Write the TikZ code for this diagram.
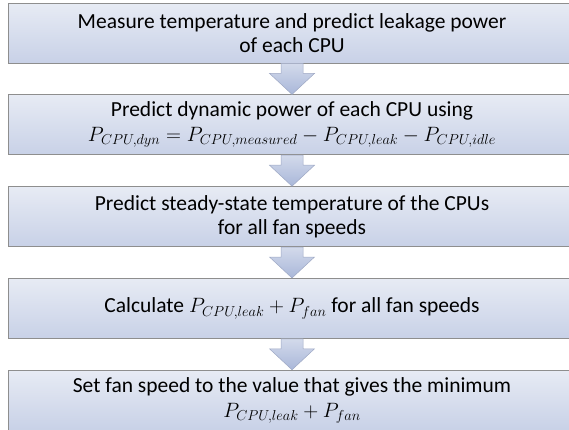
\documentclass[tikz,border=0pt]{standalone}
\usepackage{fontspec}
\setmainfont{Carlito}
\usepackage{tikz}
\usetikzlibrary{positioning,calc}

\definecolor{boxtop}{HTML}{E7EBF4}
\definecolor{boxbottom}{HTML}{C8D1E7}
\definecolor{boxline}{HTML}{8E8E8E}
\definecolor{arrowtop}{HTML}{D3DAEB}
\definecolor{arrowbottom}{HTML}{A9B7D9}
\definecolor{arrowline}{HTML}{9EA8C4}

\tikzset{
    stepbox/.style={draw=boxline, line width=0.8pt, top color=boxtop, bottom color=boxbottom,
        minimum width=568pt, minimum height=60pt, inner sep=0pt, align=center,
        font=\fontsize{21.5}{24}\selectfont},
    flowarrow/.style={draw=arrowline, line width=0.5pt, top color=arrowtop, bottom color=arrowbottom}
}

\begin{document}
\begin{tikzpicture}
        \useasboundingbox (0,0) rectangle (569pt,-429pt);
        \node[stepbox] (measure) at (292pt,-33pt) {Measure temperature and predict leakage power\\ of each CPU};
        \node[stepbox, below=31pt of measure] (dynamic) {Predict dynamic power of each CPU using\\[1pt] $P_{CPU,dyn}=P_{CPU,measured}-P_{CPU,leak}-P_{CPU,idle}$};
        \node[stepbox, below=31pt of dynamic] (steady) {Predict steady-state temperature of the CPUs\\ for all fan speeds};
        \node[stepbox, below=31pt of steady] (calc) {Calculate $P_{CPU,leak}+P_{fan}$ for all fan speeds};
        \node[stepbox, below=31pt of calc] (setfan) {Set fan speed to the value that gives the minimum\\[1pt] $P_{CPU,leak}+P_{fan}$};
        \foreach \a/\b in {measure/dynamic, dynamic/steady, steady/calc, calc/setfan}
            \path[flowarrow] ($(\a.south)+(-11pt,0)$) -- ($(\a.south)+(11pt,0)$) -- ($(\a.south)+(11pt,-10pt)$)
                -- ($(\a.south)+(22.5pt,-10pt)$) -- (\b.north) -- ($(\a.south)+(-22.5pt,-10pt)$)
                -- ($(\a.south)+(-11pt,-10pt)$) -- cycle;
    \end{tikzpicture}
\end{document}
